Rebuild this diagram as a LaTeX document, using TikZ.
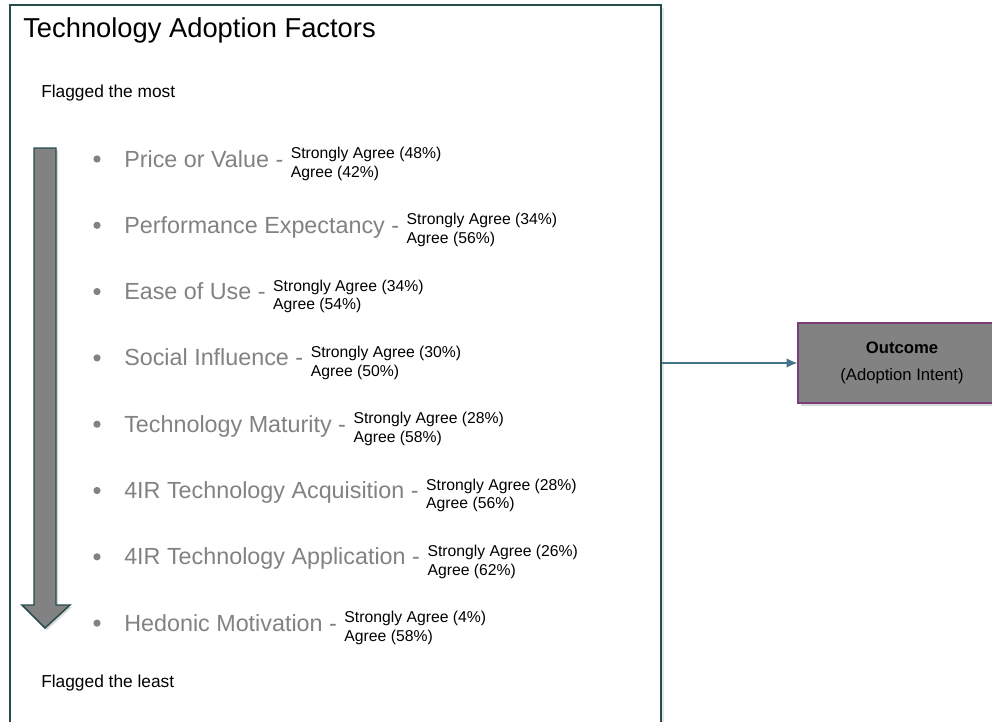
\documentclass[tikz,border=0pt]{standalone}
\usepackage{fontspec}
\setmainfont{Liberation Sans}
\usepackage{xcolor}
\usetikzlibrary{arrows,arrows.meta,calc,positioning,shadows,shapes}
\definecolor{frameteal}{HTML}{264C4C}
\definecolor{linkblue}{HTML}{45758A}
\definecolor{boxpurple}{HTML}{7A3F78}
\definecolor{factorgray}{HTML}{828282}
\tikzset{%
	mainbox/.style  = {draw=frameteal, fill=white, line width=1.5pt, rectangle, minimum width=488pt, minimum height=544pt, drop shadow={opacity=0.2, shadow xshift=2.5pt, shadow yshift=-2pt}},
	outbox/.style   = {draw=boxpurple, line width=0.9pt, fill=factorgray, rectangle, minimum width=156pt, minimum height=60pt, align=center, font=\fontsize{12.5}{20}\selectfont, drop shadow={opacity=0.3, shadow xshift=2pt, shadow yshift=-2pt}},
	factor/.style   = {anchor=base west, inner sep=0pt, text=factorgray, font=\fontsize{17.5}{20}\selectfont},
	rating/.style   = {anchor=north west, inner sep=0pt, align=left, font=\fontsize{11.8}{14}\selectfont},
	flag/.style     = {anchor=base west, inner sep=0pt, font=\fontsize{13}{15}\selectfont},
	link/.style     = {draw=linkblue, line width=0.9pt, -{Latex[length=8pt,width=7pt]}},
}

\begin{document}
\begin{tikzpicture}[x=0.75pt,y=-0.75pt]
	\useasboundingbox (0,0) rectangle (992,721);
	\clip (0,0) rectangle (992,721);
	\node[mainbox] (factors) at (335.5,367.5) {};
	\node[anchor=base west, inner sep=0pt, font=\fontsize{20.5}{24}\selectfont] (title) at (23,37) {Technology Adoption Factors};
	\node[flag] (most) at (41,97) {Flagged the most};
	\node[flag] (least) at (41,687) {Flagged the least};
	% ranking arrow
	\draw[frameteal, line width=1.1pt, fill=factorgray, drop shadow={opacity=0.3, shadow xshift=1.5pt, shadow yshift=-1.5pt}]
		(34,148) -- (56,148) -- (56,605) -- (70,605) -- (45,628) -- (22,605) -- (34,605) -- cycle;
	% factors
	\foreach \name/\factor/\strong/\agree [count=\i] in {%
		price/Price or Value/48/42,
		perf/Performance Expectancy/34/56,
		ease/Ease of Use/34/54,
		social/Social Influence/30/50,
		maturity/Technology Maturity/28/58,
		acq/4IR Technology Acquisition/28/56,
		appl/4IR Technology Application/26/62,
		hedonic/Hedonic Motivation/4/58}
	{
		\fill[factorgray] (97,{159+(\i-1)*66.3}) circle (3.6);
		\node[factor] (\name) at (124,{167+(\i-1)*66.3}) {\factor{} -};
		\node[rating] (\name-r) at ($(\name.base east)+(7,-20)$) {Strongly Agree (\strong\%)\\Agree (\agree\%)};
	}
	\node[outbox] (outcome) at (902,363) {\textbf{Outcome}\\(Adoption Intent)};
	\draw[link] (factors.east |- outcome.west) -- (outcome.west);
\end{tikzpicture}
\end{document}
